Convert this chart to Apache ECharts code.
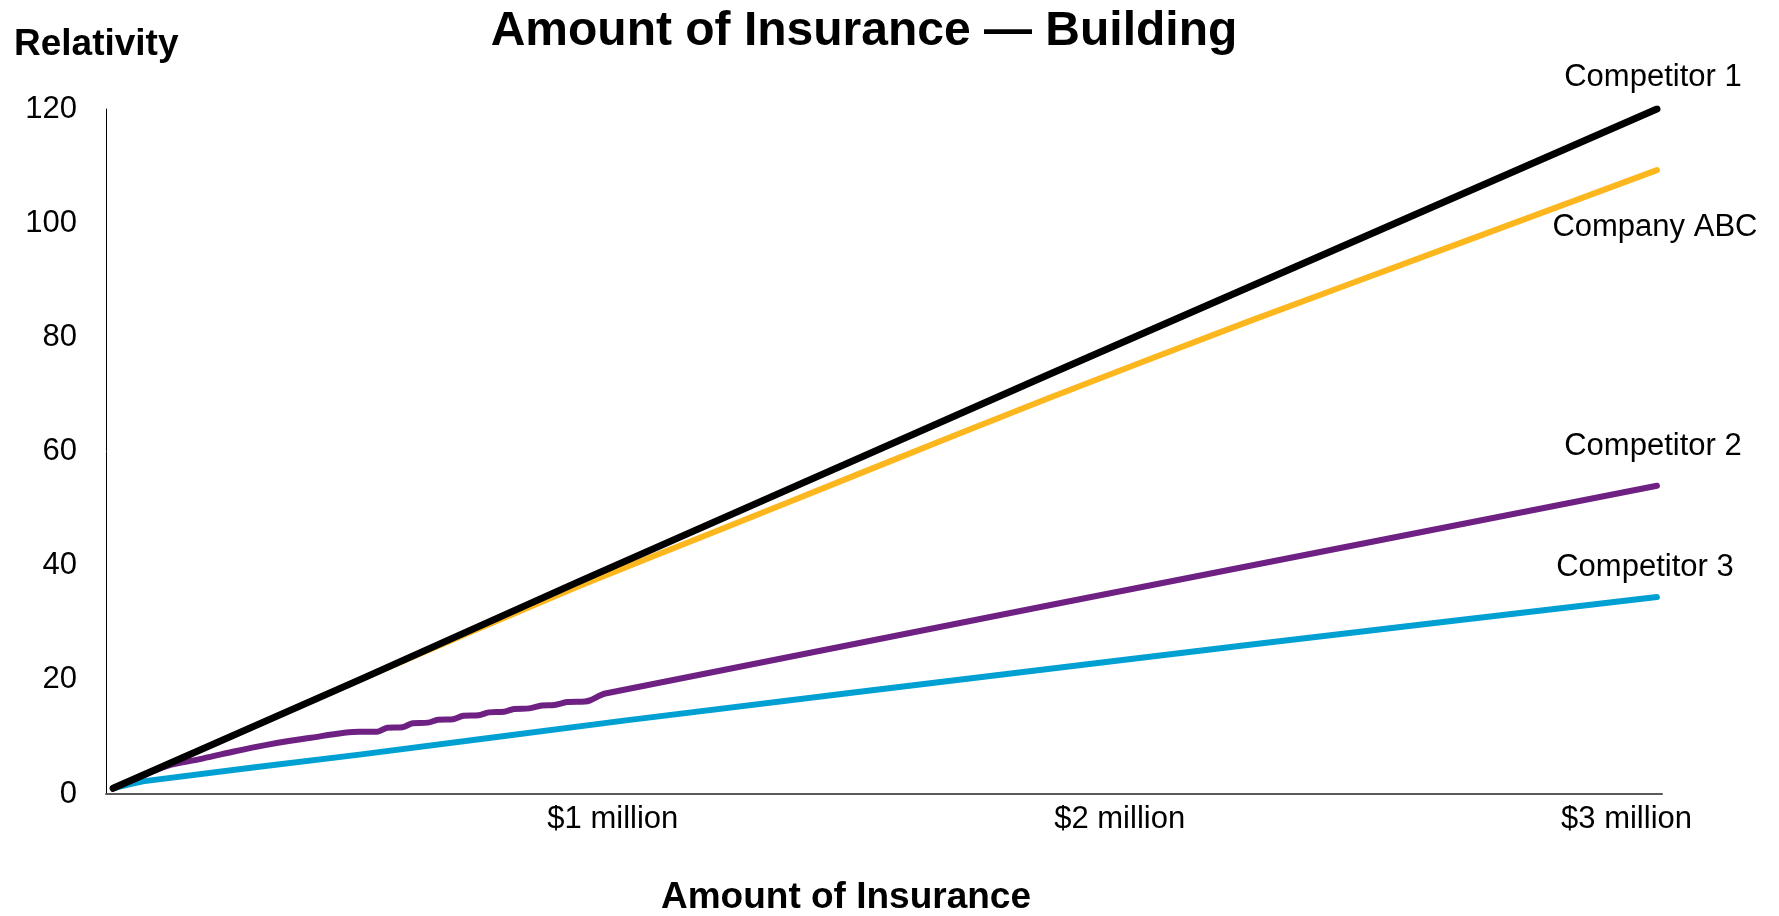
<!DOCTYPE html>
<html>
<head>
<meta charset="utf-8">
<script src="https://cdn.jsdelivr.net/npm/echarts@6/dist/echarts.min.js"></script>
<style>
  html, body { margin: 0; padding: 0; background: #fff; }
  #chart { width: 1779px; height: 916px; }
</style>
</head>
<body>
<div id="chart"></div>
<script>
// amount of insurance in $ million, relativity values
var companyAbcX = [0.014, 0.5, 0.93, 1.2, 1.5, 1.858, 2.252, 2.65, 3.06];
var companyAbcY = [1, 20, 36.3, 45.9, 56.6, 69.3, 82.7, 95.8, 109.3];

var competitor1X = [0.014, 0.5, 0.933, 1.858, 3.06];
var competitor1Y = [1, 20, 37.2, 73.4, 120];

var competitor2X = [0.014, 0.067, 0.12, 0.185, 0.25, 0.317, 0.4, 0.5, 0.535, 0.555, 0.585, 0.605, 0.635,
  0.655, 0.685, 0.705, 0.735, 0.755, 0.785, 0.805, 0.835, 0.86, 0.885, 0.91, 0.945, 0.955, 0.985, 3.06];
var competitor2Y = [1, 3, 4.9, 6.1, 7.4, 8.6, 9.8, 10.9, 10.9, 11.6, 11.7, 12.4, 12.5,
  13.0, 13.1, 13.7, 13.8, 14.3, 14.4, 14.9, 15.0, 15.5, 15.6, 16.1, 16.2, 16.4, 17.6, 54];

var competitor3X = [0.014, 0.08, 0.5, 1.026, 1.924, 2.252, 3.06];
var competitor3Y = [1, 2.3, 6.9, 12.9, 22.6, 26.1, 34.5];

var xTickLabels = ['', '$1 million', '$2 million', '$3 million'];
var yTicks = [0, 20, 40, 60, 80, 100, 120];

var FONT = "'Liberation Sans', Arial, sans-serif";

function zip(xs, ys) {
  return xs.map(function (x, i) { return [x, ys[i]]; });
}

function makeSeries(name, xs, ys, color, width, offset, smooth) {
  var last = [xs[xs.length - 1], ys[ys.length - 1]];
  return {
    name: name,
    type: 'line',
    data: zip(xs, ys),
    smooth: smooth || false,
    showSymbol: false,
    symbol: 'none',
    lineStyle: { color: color, width: width, cap: 'round', join: 'round' },
    markPoint: {
      symbol: 'circle',
      symbolSize: 1,
      itemStyle: { color: 'rgba(0,0,0,0)' },
      label: {
        show: true,
        position: 'inside',
        offset: offset,
        formatter: name,
        color: '#000',
        fontSize: 31,
        fontFamily: FONT
      },
      data: [{ coord: last }]
    }
  };
}

var myChart = echarts.init(document.getElementById('chart'));
var option = {
  animation: false,
  backgroundColor: '#fff',
  grid: { left: 106, right: 117, top: 109, bottom: 122 },
  xAxis: {
    type: 'value',
    min: 0,
    max: 3.07,
    interval: 1,
    splitLine: { show: false },
    axisTick: { show: false },
    axisLine: { show: true, lineStyle: { color: '#595959', width: 2 } },
    axisLabel: {
      margin: 10,
      color: '#000',
      fontSize: 31,
      fontFamily: FONT,
      formatter: function (v) {
        return Number.isInteger(v) ? (xTickLabels[v] || '') : '';
      }
    }
  },
  yAxis: {
    type: 'value',
    min: yTicks[0],
    max: yTicks[yTicks.length - 1],
    interval: 20,
    splitLine: { show: false },
    axisTick: { show: false },
    axisLine: { show: true, lineStyle: { color: '#000', width: 1 } },
    axisLabel: { margin: 29, color: '#000', fontSize: 31, fontFamily: FONT }
  },
  graphic: [
    {
      type: 'text', x: 864, y: 32,
      style: { text: 'Amount of Insurance — Building', font: 'bold 48px ' + FONT, fill: '#000', align: 'center', verticalAlign: 'middle' }
    },
    {
      type: 'text', x: 14, y: 45,
      style: { text: 'Relativity', font: 'bold 37px ' + FONT, fill: '#000', align: 'left', verticalAlign: 'middle' }
    },
    {
      type: 'text', x: 846, y: 898,
      style: { text: 'Amount of Insurance', font: 'bold 37px ' + FONT, fill: '#000', align: 'center', verticalAlign: 'middle' }
    }
  ],
  series: [
    makeSeries('Competitor 3', competitor3X, competitor3Y, '#00A0D2', 6, [-12, -30], 0.2),
    makeSeries('Competitor 2', competitor2X, competitor2Y, '#6E2183', 6, [-4, -39], 0.3),
    makeSeries('Company ABC', companyAbcX, companyAbcY, '#FDB71E', 6, [-2, 57], 0.2),
    makeSeries('Competitor 1', competitor1X, competitor1Y, '#000000', 7, [-4, -32])
  ]
};
option && myChart.setOption(option);
</script>
</body>
</html>
